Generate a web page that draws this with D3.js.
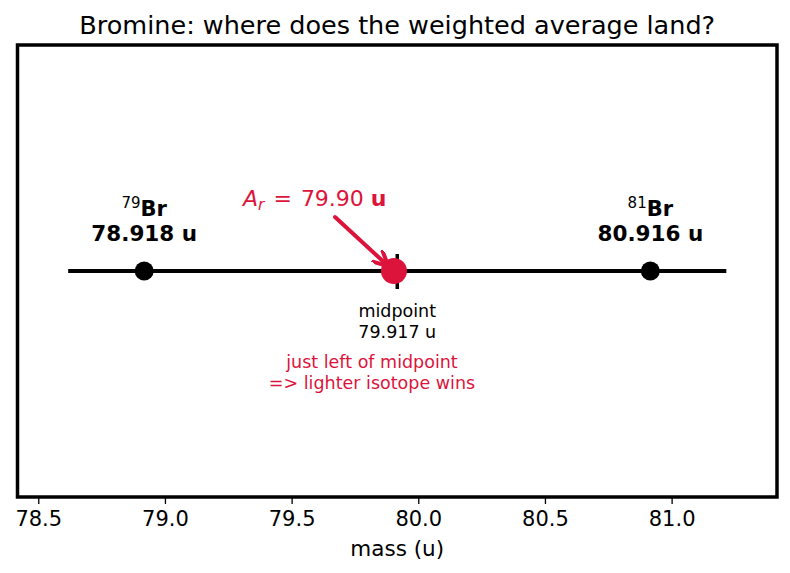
<!DOCTYPE html>
<html>
<head>
<meta charset="utf-8">
<script src="https://cdn.jsdelivr.net/npm/d3@7"></script>
<style>
  body { margin: 0; background: #fff; }
  svg text { font-family: "DejaVu Sans", sans-serif; }
</style>
</head>
<body>
<div id="chart"></div>
<script>
// isotopes of bromine
var isotopeNames = ["79", "81"];
var isotopeMasses = [78.918, 80.916];
var avgMass = [79.904];
var avgLabel = ["79.90"];
var midMass = [(isotopeMasses[0] + isotopeMasses[1]) / 2];
var xTicks = [78.5, 79.0, 79.5, 80.0, 80.5, 81.0];
var xDomain = [78.418, 81.416];
var crimson = "#DC143C";

var width = 790, height = 573;
var margin = { top: 45, right: 13, bottom: 76, left: 17.5 };

var svg = d3.select("#chart").append("svg")
  .attr("width", width)
  .attr("height", height);

var x = d3.scaleLinear()
  .domain(xDomain)
  .range([margin.left, width - margin.right]);

var y = d3.scaleLinear()
  .domain([-1, 1])
  .range([height - margin.bottom, margin.top]);

// title
svg.append("text")
  .attr("x", (margin.left + width - margin.right) / 2)
  .attr("y", 34)
  .attr("text-anchor", "middle")
  .style("font-size", "25.5px")
  .text("Bromine: where does the weighted average land?");

// x axis
var xAxis = svg.append("g")
  .attr("transform", "translate(0," + (height - margin.bottom) + ")")
  .call(d3.axisBottom(x).tickValues(xTicks).tickFormat(d3.format(".1f")).tickSize(7).tickPadding(7));
xAxis.select(".domain").remove();
xAxis.selectAll(".tick line").attr("stroke", "#000").attr("stroke-width", 1.3);
xAxis.selectAll(".tick text")
  .style("font-size", "21px")
  .style("font-family", "DejaVu Sans, sans-serif")
  .attr("fill", "#000");

svg.append("text")
  .attr("x", (margin.left + width - margin.right) / 2)
  .attr("y", 556)
  .attr("text-anchor", "middle")
  .style("font-size", "21.5px")
  .text("mass (u)");

// number line between isotopes
svg.append("line")
  .attr("x1", x(isotopeMasses[0] - 0.3))
  .attr("x2", x(isotopeMasses[1] + 0.3))
  .attr("y1", y(0))
  .attr("y2", y(0))
  .attr("stroke", "#000")
  .attr("stroke-width", 4);

// midpoint tick
svg.append("line")
  .attr("x1", x(midMass[0]))
  .attr("x2", x(midMass[0]))
  .attr("y1", y(0) - 17)
  .attr("y2", y(0) + 18)
  .attr("stroke", "#000")
  .attr("stroke-width", 3.5);

// isotope dots
svg.selectAll("circle.iso")
  .data(isotopeMasses)
  .enter().append("circle")
  .attr("class", "iso")
  .attr("cx", function(d) { return x(d); })
  .attr("cy", y(0))
  .attr("r", 9.5)
  .attr("fill", "#000");

var isoLab = svg.selectAll("g.isolab")
  .data(isotopeMasses)
  .enter().append("g")
  .attr("class", "isolab")
  .attr("transform", function(d) { return "translate(" + x(d) + "," + y(0) + ")"; });

isoLab.append("text")
  .attr("y", -57)
  .attr("text-anchor", "middle")
  .style("font-size", "21px")
  .style("font-weight", "bold")
  .each(function(d, i) {
    var t = d3.select(this);
    t.append("tspan")
      .attr("dy", "-0.4em")
      .style("font-size", "15px")
      .style("font-weight", "normal")
      .text(isotopeNames[i]);
    t.append("tspan")
      .attr("dy", "0.4em")
      .text("Br");
  });

isoLab.append("text")
  .attr("y", -30)
  .attr("text-anchor", "middle")
  .style("font-size", "21.5px")
  .style("font-weight", "bold")
  .text(function(d) { return d3.format(".3f")(d) + " u"; });

// midpoint label
var midLab = svg.append("text")
  .attr("x", x(midMass[0]))
  .attr("text-anchor", "middle")
  .style("font-size", "17.5px")
  .attr("fill", "#000");
midLab.append("tspan").attr("x", x(midMass[0])).attr("y", 317).text("midpoint");
midLab.append("tspan").attr("x", x(midMass[0])).attr("y", 338).text(d3.format(".3f")(midMass[0]) + " u");

// weighted average dot
svg.append("circle")
  .attr("cx", x(avgMass[0]))
  .attr("cy", y(0))
  .attr("r", 13)
  .attr("fill", crimson);

// arrow
svg.append("defs").append("marker")
  .attr("id", "head")
  .attr("viewBox", "0 0 10 10")
  .attr("refX", 8)
  .attr("refY", 5)
  .attr("markerWidth", 4)
  .attr("markerHeight", 4)
  .attr("markerUnits", "strokeWidth")
  .attr("orient", "auto")
  .append("path")
  .attr("d", "M0,0 L10,5 L0,10")
  .attr("fill", "none")
  .attr("stroke", crimson)
  .attr("stroke-width", 2.5);

svg.append("line")
  .attr("x1", 335)
  .attr("y1", 217)
  .attr("x2", x(avgMass[0]) - 8)
  .attr("y2", y(0) - 7)
  .attr("stroke", crimson)
  .attr("stroke-width", 4)
  .attr("stroke-linecap", "round")
  .attr("marker-end", "url(#head)");

var arLab = svg.append("text")
  .attr("x", 243)
  .attr("y", 206)
  .attr("fill", crimson)
  .style("font-size", "22px");
arLab.append("tspan").style("font-style", "italic").text("A");
arLab.append("tspan").style("font-style", "italic").style("font-size", "15.5px").attr("dy", 4).text("r");
arLab.append("tspan").attr("dy", -4).attr("dx", 9).text("=");
arLab.append("tspan").attr("dx", 9).text(avgLabel[0] + " ");
arLab.append("tspan").style("font-weight", "bold").text("u");

// verdict note
var note = svg.append("text")
  .attr("text-anchor", "middle")
  .attr("fill", crimson)
  .style("font-size", "17.5px");
note.append("tspan").attr("x", 372).attr("y", 368).text("just left of midpoint");
note.append("tspan").attr("x", 372).attr("y", 389).text("=> lighter isotope wins");

// axes frame
svg.append("rect")
  .attr("x", margin.left)
  .attr("y", margin.top)
  .attr("width", width - margin.left - margin.right)
  .attr("height", height - margin.top - margin.bottom)
  .attr("fill", "none")
  .attr("stroke", "#000")
  .attr("stroke-width", 3.5);
</script>
</body>
</html>
